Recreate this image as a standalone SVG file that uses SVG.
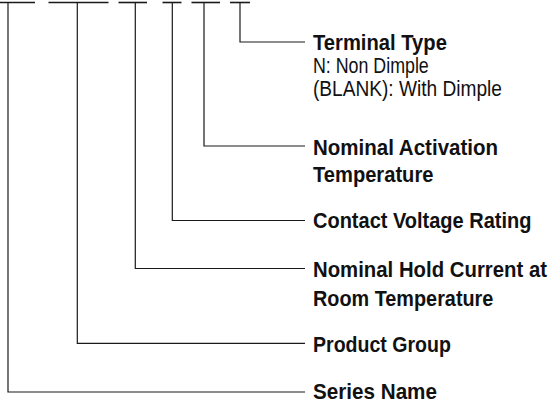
<svg xmlns="http://www.w3.org/2000/svg" width="550" height="404" viewBox="0 0 550 404">
<style>
.ln{stroke:#1a1a1a;stroke-width:1.2;fill:none}
.dash{stroke:#1a1a1a;stroke-width:1.6;fill:none}
.t{font-family:"Liberation Sans",Arial,sans-serif;font-size:22px;fill:#111}
.b{font-weight:bold}
</style>
<rect width="550" height="404" fill="#fff"/>
<g id="code">
<line class="dash" x1="0" y1="2.5" x2="35" y2="2.5"/>
<line class="dash" x1="48.5" y1="2.5" x2="108.5" y2="2.5"/>
<line class="dash" x1="118.5" y1="2.5" x2="147" y2="2.5"/>
<line class="dash" x1="162.5" y1="2.5" x2="181.5" y2="2.5"/>
<line class="dash" x1="191.5" y1="2.5" x2="220" y2="2.5"/>
<line class="dash" x1="230" y1="2.5" x2="250" y2="2.5"/>
</g>
<g id="connectors">
<polyline class="ln" points="240,2.5 240,42 305,42"/>
<polyline class="ln" points="204,2.5 204,146 305,146"/>
<polyline class="ln" points="172.3,2.5 172.3,220.5 305,220.5"/>
<polyline class="ln" points="135.3,2.5 135.3,268.5 305,268.5"/>
<polyline class="ln" points="77.3,2.5 77.3,343.3 305,343.3"/>
<polyline class="ln" points="8,2.5 8,392 305,392"/>
</g>
<g id="terminal-type">
<text class="t b" transform="translate(313,50) scale(0.918,1)">Terminal Type</text>
<text class="t" transform="translate(313,73) scale(0.81,1)">N: Non Dimple</text>
<text class="t" transform="translate(313,96) scale(0.869,1)">(BLANK): With Dimple</text>
</g>
<g id="activation-temperature">
<text class="t b" transform="translate(313,155) scale(0.933,1)">Nominal Activation</text>
<text class="t b" transform="translate(313,182) scale(0.915,1)">Temperature</text>
</g>
<g id="contact-voltage">
<text class="t b" transform="translate(313,228) scale(0.909,1)">Contact Voltage Rating</text>
</g>
<g id="hold-current">
<text class="t b" transform="translate(313,277) scale(0.925,1)">Nominal Hold Current at</text>
<text class="t b" transform="translate(313,306) scale(0.902,1)">Room Temperature</text>
</g>
<g id="product-group">
<text class="t b" transform="translate(313,352) scale(0.889,1)">Product Group</text>
</g>
<g id="series-name">
<text class="t b" transform="translate(313,399) scale(0.939,1)">Series Name</text>
</g>
</svg>
